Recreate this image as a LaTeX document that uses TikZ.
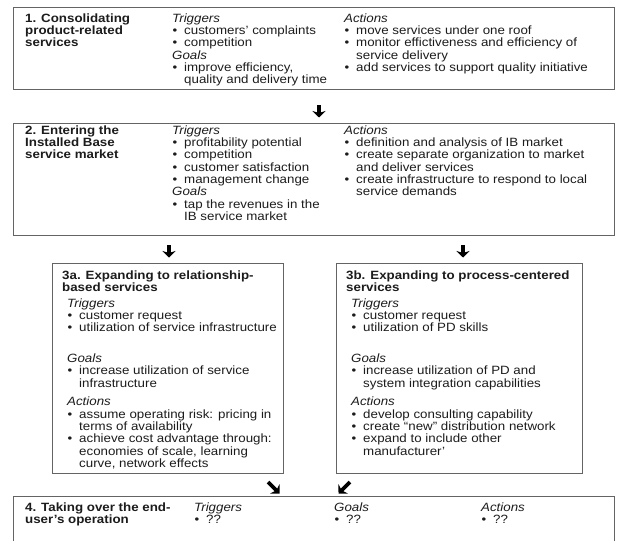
\documentclass[tikz,border=0pt]{standalone}
\usepackage{fontspec}
\setmainfont[FakeStretch=1.11]{Liberation Sans}
\usetikzlibrary{arrows.meta}

\definecolor{ink}{RGB}{28,28,28}
\definecolor{frame}{RGB}{100,100,100}

% bullet cell and heading row for the column tables
\newcommand{\bu}{\makebox[12pt][l]{\hspace{0.5pt}•}}
\newcommand{\hd}[1]{\multicolumn{2}{@{}l@{}}{\itshape #1}}

\tikzset{
  stagebox/.style={draw=frame, line width=1.2pt, fill=none, inner sep=0pt, anchor=north west},
  txt/.style={anchor=base west, inner sep=0pt, text=ink,
              font=\fontsize{12}{12.2}\selectfont},
  ttl/.style={txt, font=\fontsize{12}{12.2}\selectfont\bfseries},
  flow/.style={line width=3.6pt, draw=black,
               -{Stealth[length=6.5pt,width=13pt,inset=2pt]}}
}

\begin{document}
\begin{tikzpicture}[x=1pt,y=-1pt]
\useasboundingbox (0,0) rectangle (619,541);
\clip (0,0) rectangle (619,541);
\fill[white] (0,0) rectangle (619,541);

% ---------- stage frames ----------
\node[stagebox, minimum width=601pt, minimum height=82pt] (b1) at (13,7) {};
\node[stagebox, minimum width=601pt, minimum height=112pt] (b2) at (13,123) {};
\node[stagebox, minimum width=231pt, minimum height=210pt] (b3a) at (52,263) {};
\node[stagebox, minimum width=246pt, minimum height=210pt] (b3b) at (336,263) {};
\node[stagebox, minimum width=601pt, minimum height=70pt] (b4) at (13,496) {};

% ---------- stage 1 ----------
\node[ttl] (t1) at (25,22) {\begin{tabular}[t]{@{}l@{}}1. Consolidating\\product-related\\services\end{tabular}};
\node[txt] (tr1) at (172,22) {\begin{tabular}[t]{@{}l@{}l@{}}
\hd{Triggers}\\
\bu & customers’ complaints\\
\bu & competition\\
\hd{Goals}\\
\bu & improve efficiency,\\
    & quality and delivery time
\end{tabular}};
\node[txt] (ac1) at (344,22) {\begin{tabular}[t]{@{}l@{}l@{}}
\hd{Actions}\\
\bu & move services under one roof\\
\bu & monitor effictiveness and efficiency of\\
    & service delivery\\
\bu & add services to support quality initiative
\end{tabular}};

% ---------- stage 2 ----------
\node[ttl] (t2) at (25,134) {\begin{tabular}[t]{@{}l@{}}2. Entering the\\Installed Base\\service market\end{tabular}};
\node[txt] (tr2) at (172,134) {\begin{tabular}[t]{@{}l@{}l@{}}
\hd{Triggers}\\
\bu & profitability potential\\
\bu & competition\\
\bu & customer satisfaction\\
\bu & management change\\
\hd{Goals}\\
\bu & tap the revenues in the\\
    & IB service market
\end{tabular}};
\node[txt] (ac2) at (344,134) {\begin{tabular}[t]{@{}l@{}l@{}}
\hd{Actions}\\
\bu & definition and analysis of IB market\\
\bu & create separate organization to market\\
    & and deliver services\\
\bu & create infrastructure to respond to local\\
    & service demands
\end{tabular}};

% ---------- stage 3a ----------
\node[ttl] (t3a) at (62,279) {\begin{tabular}[t]{@{}l@{}}3a. Expanding to relationship-\\based services\end{tabular}};
\node[txt] (c3a) at (67,307) {\begin{tabular}[t]{@{}l@{}l@{}}
\hd{Triggers}\\
\bu & customer request\\
\bu & utilization of service infrastructure\\[18.4pt]
\hd{Goals}\\
\bu & increase utilization of service\\
    & infrastructure\\[6.4pt]
\hd{Actions}\\
\bu & assume operating risk: pricing in\\
    & terms of availability\\
\bu & achieve cost advantage through:\\
    & economies of scale, learning\\
    & curve, network effects
\end{tabular}};

% ---------- stage 3b ----------
\node[ttl] (t3b) at (346,279) {\begin{tabular}[t]{@{}l@{}}3b. Expanding to process-centered\\services\end{tabular}};
\node[txt] (c3b) at (351,307) {\begin{tabular}[t]{@{}l@{}l@{}}
\hd{Triggers}\\
\bu & customer request\\
\bu & utilization of PD skills\\[18.4pt]
\hd{Goals}\\
\bu & increase utilization of PD and\\
    & system integration capabilities\\[6.4pt]
\hd{Actions}\\
\bu & develop consulting capability\\
\bu & create “new” distribution network\\
\bu & expand to include other\\
    & manufacturer’
\end{tabular}};

% ---------- stage 4 ----------
\node[ttl] (t4) at (25,511) {\begin{tabular}[t]{@{}l@{}}4. Taking over the end-\\user’s operation\end{tabular}};
\node[txt] (tr4) at (194,511) {\begin{tabular}[t]{@{}l@{}l@{}}\hd{Triggers}\\ \bu & ??\end{tabular}};
\node[txt] (go4) at (334,511) {\begin{tabular}[t]{@{}l@{}l@{}}\hd{Goals}\\ \bu & ??\end{tabular}};
\node[txt] (ac4) at (481,511) {\begin{tabular}[t]{@{}l@{}l@{}}\hd{Actions}\\ \bu & ??\end{tabular}};

% ---------- transition arrows ----------
\coordinate (a1s) at (319,105);  \coordinate (a1e) at (319,117.5);
\coordinate (a2s) at (169,245);  \coordinate (a2e) at (169,257.5);
\coordinate (a3s) at (463,245);  \coordinate (a3e) at (463,257.5);
\coordinate (a4s) at (268,482); \coordinate (a4e) at (279.5,493.5);
\coordinate (a5s) at (350,482); \coordinate (a5e) at (338.5,493.5);
\draw[flow] (a1s) -- (a1e);
\draw[flow] (a2s) -- (a2e);
\draw[flow] (a3s) -- (a3e);
\draw[flow] (a4s) -- (a4e);
\draw[flow] (a5s) -- (a5e);
\end{tikzpicture}
\end{document}
